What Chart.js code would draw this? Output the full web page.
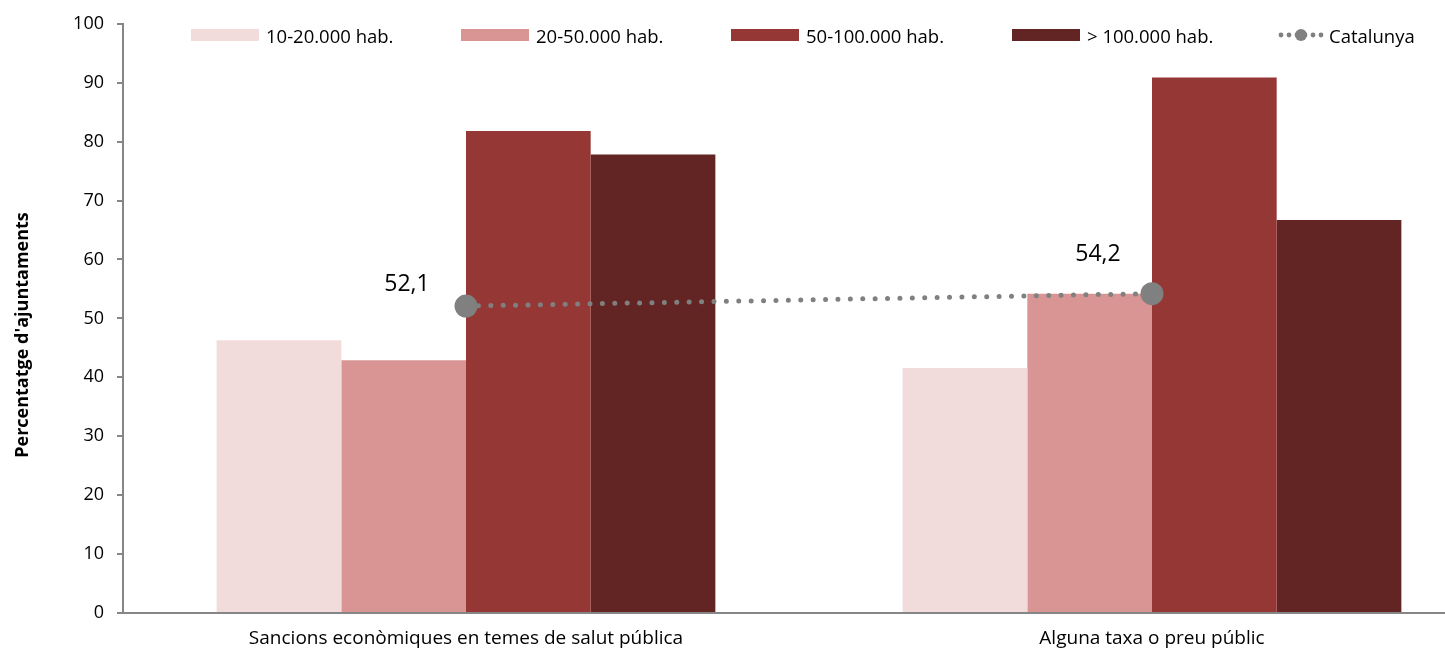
<!DOCTYPE html>
<html>
<head>
<meta charset="utf-8">
<script src="https://cdn.jsdelivr.net/npm/chart.js@4.4.1/dist/chart.umd.min.js"></script>
<style>
  html, body { margin: 0; padding: 0; background: #fff; overflow: hidden; }
  #wrap { position: relative; width: 1520px; height: 651px; }
  #legend {
    position: absolute; left: 0; top: 22px; width: 1520px; height: 26px;
    font-family: "Open Sans", sans-serif; font-size: 18.5px; color: #000;
  }
  #legend .item { position: absolute; top: 0; height: 26px; display: flex; align-items: center; white-space: nowrap; }
  #legend .box { width: 68px; height: 12px; margin-right: 7px; }
  #legend svg { margin-right: 5px; }
</style>
</head>
<body>
<div id="wrap">
  <canvas id="chart" width="1520" height="651"></canvas>
  <div id="legend"></div>
</div>
<script>
// categories + series (llegits del gràfic)
const categories = ['Sancions econòmiques en temes de salut pública', 'Alguna taxa o preu públic'];
const seriesNames = ['10-20.000 hab.', '20-50.000 hab.', '50-100.000 hab.', '> 100.000 hab.'];
const s10_20 = [46.3, 41.6];
const s20_50 = [42.9, 54.2];
const s50_100 = [81.8, 90.9];
const s100 = [77.8, 66.7];
const catalunya = [52.1, 54.2];
const yTicks = [0, 10, 20, 30, 40, 50, 60, 70, 80, 90, 100];

const colors = ['#F2DCDB', '#D99594', '#953735', '#632523'];
const lineColor = '#808080';
const axisColor = '#868686';
const FONT = '"Open Sans", sans-serif';

// offsets de les etiquetes de Catalunya respecte al punt
const labelOffsets = [[-59, -22], [-54, -39]];
// posició x de cada entrada de la llegenda
const legendX = [191, 461, 731, 1012, 1278];

const catLabels = {
  id: 'catLabels',
  afterDatasetsDraw(chart) {
    const meta = chart.getDatasetMeta(4);
    const ctx = chart.ctx;
    ctx.save();
    ctx.font = '23px ' + FONT;
    ctx.fillStyle = '#000';
    ctx.textAlign = 'center';
    ctx.textBaseline = 'middle';
    meta.data.forEach(function (pt, i) {
      const txt = catalunya[i].toFixed(1).replace('.', ',');
      ctx.fillText(txt, pt.x + labelOffsets[i][0], pt.y + labelOffsets[i][1]);
    });
    ctx.restore();
  }
};

const yTitle = {
  id: 'yTitle',
  afterDraw(chart) {
    const ctx = chart.ctx;
    ctx.save();
    ctx.translate(23, 335);
    ctx.rotate(-Math.PI / 2);
    ctx.font = 'bold 18px ' + FONT;
    ctx.fillStyle = '#000';
    ctx.textAlign = 'center';
    ctx.textBaseline = 'middle';
    ctx.fillText("Percentatge d'ajuntaments", 0, 0);
    ctx.restore();
  }
};

const barSeries = [s10_20, s20_50, s50_100, s100];
const datasets = barSeries.map(function (d, i) {
  return {
    type: 'bar', label: seriesNames[i], data: d, backgroundColor: colors[i],
    borderWidth: 0, categoryPercentage: 0.727, barPercentage: 1.0, order: 2
  };
});
datasets.push({
  type: 'line', label: 'Catalunya', data: catalunya,
  borderColor: lineColor, backgroundColor: lineColor,
  borderWidth: 5, borderDash: [0, 12.4], borderCapStyle: 'round',
  pointRadius: 11.5, pointBackgroundColor: lineColor, pointBorderWidth: 0,
  fill: false, tension: 0, order: 1
});

new Chart(document.getElementById('chart'), {
  data: { labels: categories, datasets: datasets },
  options: {
    responsive: false,
    animation: false,
    layout: { padding: { top: 19, right: 25, left: 0, bottom: 0 } },
    plugins: { legend: { display: false }, tooltip: { enabled: false } },
    scales: {
      x: {
        afterFit: function (s) { s.height = 38; },
        grid: { display: false },
        border: { display: true, color: axisColor, width: 2 },
        ticks: { color: '#000', font: { family: FONT, size: 19 }, padding: 6 }
      },
      y: {
        min: 0, max: 100,
        afterFit: function (s) { s.width = 123; },
        afterBuildTicks: function (s) { s.ticks = yTicks.map(function (v) { return { value: v }; }); },
        grid: { drawOnChartArea: false, drawTicks: true, tickLength: 6, color: axisColor, lineWidth: 2 },
        border: { display: true, color: axisColor, width: 2 },
        ticks: { color: '#000', font: { family: FONT, size: 18 }, padding: 13 }
      }
    }
  },
  plugins: [catLabels, yTitle]
});

// llegenda HTML
const legendEl = document.getElementById('legend');
seriesNames.forEach(function (n, i) {
  const it = document.createElement('div');
  it.className = 'item';
  it.style.left = legendX[i] + 'px';
  it.innerHTML = '<span class="box" style="background:' + colors[i] + '"></span><span></span>';
  it.lastChild.textContent = n;
  legendEl.appendChild(it);
});
(function () {
  const it = document.createElement('div');
  it.className = 'item';
  it.style.left = legendX[4] + 'px';
  let svg = '<svg width="46" height="14" viewBox="0 0 46 14">';
  [3, 11, 19, 27, 35, 43].forEach(function (x) {
    svg += '<circle cx="' + x + '" cy="7" r="2.4" fill="' + lineColor + '"/>';
  });
  svg += '<circle cx="23" cy="7" r="6" fill="' + lineColor + '"/></svg>';
  it.innerHTML = svg + '<span>Catalunya</span>';
  legendEl.appendChild(it);
})();
</script>
</body>
</html>
